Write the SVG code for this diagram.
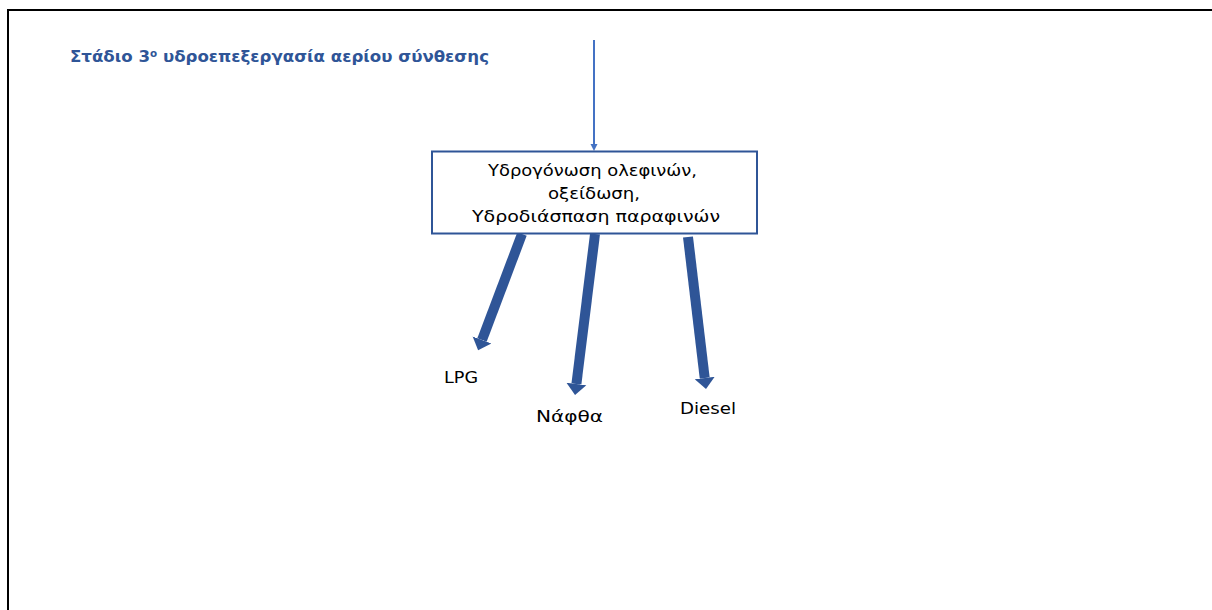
<svg xmlns="http://www.w3.org/2000/svg" width="1212" height="610" viewBox="0 0 1212 610">
<style>
.frame{fill:none;stroke:#000;stroke-width:2}
.title{font-family:"DejaVu Sans","Liberation Sans",sans-serif;font-weight:bold;font-size:16px;fill:#2F5597}
.box{fill:#fff;stroke:#2F5597;stroke-width:2}
.lbl{font-family:"DejaVu Sans","Liberation Sans",sans-serif;font-size:16px;fill:#000}
.thick{stroke:#2F5597;stroke-width:10;fill:none}
.thin{stroke:#4472C4;stroke-width:2;fill:none}
</style>
<defs>
<marker id="big" markerUnits="userSpaceOnUse" viewBox="0 -11 12 22" refX="0" refY="0" markerWidth="12" markerHeight="22" orient="auto">
<path d="M0,-10 L11,0 L0,10 z" fill="#2F5597"/>
</marker>
<marker id="small" markerUnits="userSpaceOnUse" viewBox="0 -4 7 8" refX="0" refY="0" markerWidth="7" markerHeight="8" orient="auto">
<path d="M0,-3.5 L7,0 L0,3.5 z" fill="#4472C4"/>
</marker>
</defs>
<rect width="1212" height="610" fill="#fff"/>
<path class="frame" d="M8,610 V10 H1212"/>
<g id="title"><text class="title" x="70" y="62" textLength="419" lengthAdjust="spacingAndGlyphs">Στάδιο 3<tspan dy="-5" font-size="10">ο</tspan><tspan dy="5"> υδροεπεξεργασία αερίου σύνθεσης</tspan></text></g>
<g id="connectors">
<line class="thin" x1="594" y1="40" x2="594" y2="144" marker-end="url(#small)"/>
<line class="thick" x1="522" y1="234" x2="482" y2="340" marker-end="url(#big)"/>
<line class="thick" x1="595" y1="234" x2="576.4" y2="384" marker-end="url(#big)"/>
<line class="thick" x1="688" y1="237" x2="704.7" y2="378" marker-end="url(#big)"/>
</g>
<g id="process">
<rect class="box" x="432" y="151.5" width="325" height="82"/>
<text class="lbl" x="488" y="176" textLength="209" lengthAdjust="spacingAndGlyphs">Υδρογόνωση ολεφινών,</text>
<text class="lbl" x="548" y="199" textLength="92" lengthAdjust="spacingAndGlyphs">οξείδωση,</text>
<text class="lbl" x="472" y="222" textLength="248" lengthAdjust="spacingAndGlyphs">Υδροδιάσπαση παραφινών</text>
</g>
<g id="lpg"><text class="lbl" x="444" y="383" textLength="34" lengthAdjust="spacingAndGlyphs">LPG</text></g>
<g id="naphtha"><text class="lbl" x="536" y="422" textLength="67" lengthAdjust="spacingAndGlyphs">Νάφθα</text></g>
<g id="diesel"><text class="lbl" x="680" y="414" textLength="56" lengthAdjust="spacingAndGlyphs">Diesel</text></g>
</svg>
